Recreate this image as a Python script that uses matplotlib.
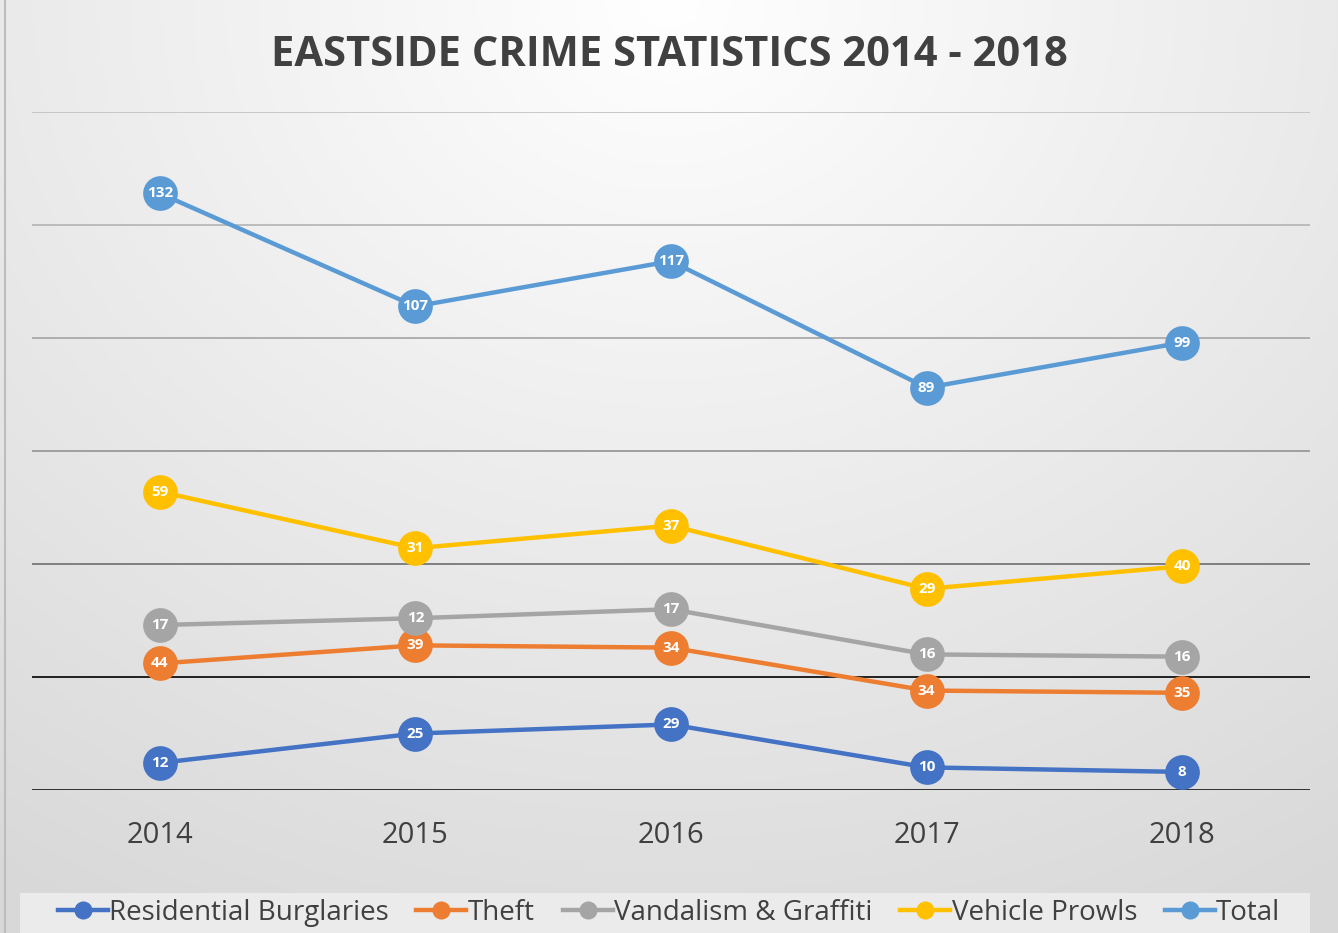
import numpy as np
import matplotlib.pyplot as plt
from matplotlib.lines import Line2D
from matplotlib.patches import Rectangle

years = ["2014", "2015", "2016", "2017", "2018"]
series_names = ["Residential Burglaries", "Theft", "Vandalism & Graffiti", "Vehicle Prowls", "Total"]
residential = [12, 25, 29, 10, 8]
theft = [44, 39, 34, 34, 35]
vandalism = [17, 12, 17, 16, 16]
vehicle = [59, 31, 37, 29, 40]
total = [132, 107, 117, 89, 99]
colors = ["#4472C4", "#ED7D31", "#A5A5A5", "#FFC000", "#5B9BD5"]

plt.rcParams['font.family'] = ['Open Sans', 'DejaVu Sans']

fig = plt.figure(figsize=(13.38, 9.33), dpi=100)

# radial gradient background
bg = fig.add_axes([0, 0, 1, 1], zorder=-5)
gx, gy = np.meshgrid(np.linspace(0, 1, 400), np.linspace(0, 1, 300))
r = np.sqrt(((gx - 0.5) * 1.1) ** 2 + ((gy - 0.0) * 0.9) ** 2)
shade = 1.0 - 0.15 * np.clip(r / 1.0, 0, 1)
bg.imshow(np.dstack([shade] * 3), extent=[0, 1, 0, 1], origin="upper", aspect="auto")
bg.axis("off")
bg.set_xlim(0, 1)
bg.set_ylim(0, 1)
bg.axvline(0.004, color="#bdbdbd", lw=1.5)
# lighter legend band
bg.add_patch(Rectangle((20 / 1338, 0), 1290 / 1338, 40 / 933, color="#ebebeb", lw=0))

ax = fig.add_axes([32 / 1338, 1 - 790 / 933, 1278 / 1338, 678 / 933])
ax.patch.set_alpha(0)
x = np.arange(len(years))
data = np.array([residential, theft, vandalism, vehicle, total])
stacked = np.cumsum(data, axis=0)

grid_colors = {0: "#222222", 50: "#111111", 100: "#777777", 150: "#999999",
               200: "#aaaaaa", 250: "#b8b8b8", 300: "#c4c4c4"}
for v, c in grid_colors.items():
    ax.axhline(v, color=c, lw=1.3, zorder=1)

for i in range(len(series_names)):
    ax.plot(x, stacked[i], color=colors[i], lw=3.2, marker="o", markersize=25,
            markeredgewidth=0, zorder=3)
    for xi, yi, val in zip(x, stacked[i], data[i]):
        ax.text(xi, yi, str(val), color="white", fontsize=11, fontweight="bold",
                ha="center", va="center", zorder=4)

ax.set_xlim(-0.5, 4.5)
ax.set_ylim(0, 300)
ax.set_yticks([])
ax.set_xticks(x)
ax.set_xticklabels(years, fontsize=21, color="#404040")
ax.tick_params(axis="x", length=0, pad=22)
for s in ax.spines.values():
    s.set_visible(False)

fig.text(0.5, 1 - 55 / 933, "EASTSIDE CRIME STATISTICS 2014 - 2018", ha="center", va="center",
         fontsize=30, fontweight="bold", color="#404040")

handles = [Line2D([0], [0], color=c, lw=3.2, marker="o", markersize=12) for c in colors]
leg = fig.legend(handles, series_names, loc="center", bbox_to_anchor=(0.5, 1 - 913 / 933),
                 ncol=5, fontsize=20, frameon=False, handlelength=1.8, handletextpad=0.05,
                 columnspacing=1.0)
for t in leg.get_texts():
    t.set_color("#404040")

fig.savefig("out.png", dpi=100)
